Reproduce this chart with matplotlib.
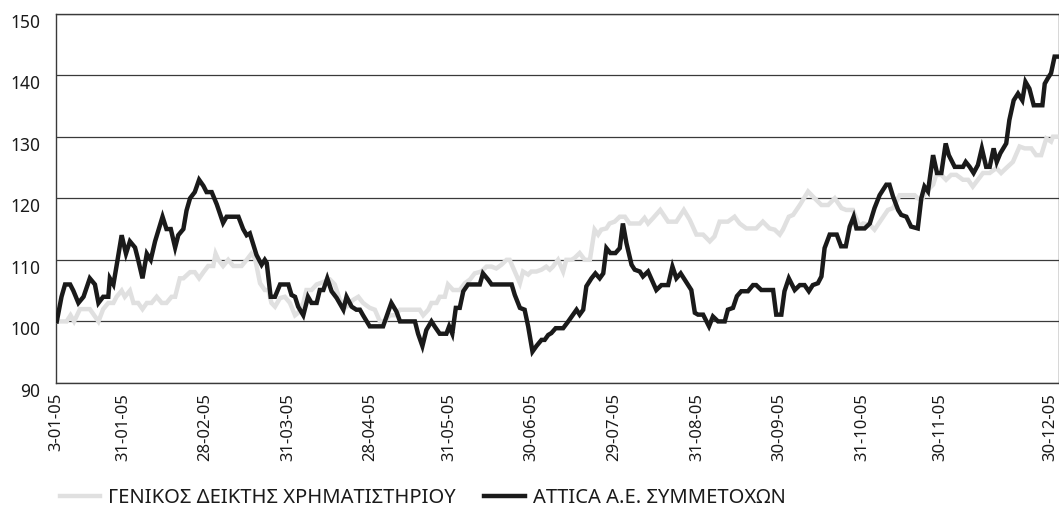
import matplotlib
matplotlib.use("Agg")
import matplotlib.pyplot as plt
from matplotlib.transforms import ScaledTranslation

# ---- data (trading-day position, value) ----
general_x = [0.2, 2.7, 3.7, 4.6, 6.1, 8.6, 10.8, 12.0, 13.3, 14.6, 15.4, 16.7, 17.5, 18.8, 19.7,
             20.9, 22.0, 23.1, 24.3, 25.6, 26.9, 28.1, 29.4, 30.3, 31.5, 32.4, 34.1, 35.3, 36.4,
             37.5, 38.7, 40.0, 40.6, 41.3, 42.5, 43.8, 45.1, 47.2, 48.5, 49.7, 50.6, 51.9, 53.1,
             54.0, 54.8, 55.7, 57.0, 58.2, 59.5, 60.8, 61.6, 62.9, 63.7, 65.0, 66.3, 69.7, 70.9,
             72.2, 73.9, 75.6, 76.9, 78.1, 79.8, 81.1, 82.4, 83.6, 84.9, 86.2, 87.5, 92.5, 93.4,
             94.7, 95.5, 96.8, 97.6, 98.9, 99.7, 101.0, 102.7, 104.0, 105.3, 106.5, 108.2, 109.5,
             110.8, 112.0, 113.3, 114.6, 115.4, 116.7, 118.0, 118.8, 120.1, 120.9, 122.2, 123.5,
             124.7, 125.6, 126.4, 127.7, 129.0, 129.8, 131.1, 131.9, 133.2, 134.5, 135.8, 137.0,
             137.9, 138.7, 140.0, 140.8, 142.1, 143.4, 144.7, 145.9, 148.5, 149.7, 150.6, 151.9,
             153.7, 155.7, 157.8, 159.7, 161.2, 162.9, 164.6, 166.3, 167.5, 168.8, 170.9, 172.6,
             173.9, 175.6, 178.1, 179.8, 181.5, 182.8, 184.1, 184.9, 186.4, 187.5, 189.2, 191.3,
             192.5, 194.7, 196.4, 198.1, 199.8, 201.0, 202.7, 204.4, 205.3, 207.0, 208.2, 209.9,
             211.6, 212.9, 214.6, 218.4, 219.2, 220.1, 221.4, 223.1, 223.9, 225.2, 226.4, 227.7,
             229.0, 230.7, 232.0, 233.2, 234.5, 235.8, 237.5, 239.2, 240.4, 241.7, 243.4, 245.1,
             246.4, 248.1, 249.3, 250.6, 251.9, 253.1, 253.6, 255.0]
general_y = [100, 100, 101, 100, 102, 102, 100, 102, 103, 103, 104, 105, 104, 105, 103,
             103, 102, 103, 103, 104, 103, 103, 104, 104, 107, 107, 108, 108, 107,
             108, 109, 109, 111, 110, 109, 110, 109, 109, 110, 111, 110.3, 106.2, 105.1,
             105.1, 103, 102.4, 103.8, 104, 103, 101, 101.4, 103, 105.1, 105.1, 106, 106.8, 106,
             103.5, 102.4, 103.5, 104, 103, 102.2, 101.9, 100, 100, 101, 101, 101.9, 101.9, 101,
             101.9, 103, 103, 104, 104, 106, 105.1, 105.1, 106.2, 106.8, 107.8, 108.1, 108.9,
             108.9, 108.6, 109.2, 110, 110, 108.1, 106.2, 108.1, 107.6, 108.1, 108.1, 108.4,
             108.9, 108.4, 108.9, 110, 108.1, 110, 110, 110.3, 111.1, 110, 110, 114.9,
             114.1, 114.9, 115.1, 115.9, 116.2, 117, 117, 115.9, 115.9, 116.8, 115.9, 116.8,
             118.1, 116.2, 116.2, 118.1, 116.5, 114.1, 114.1, 113, 113.8, 116.2, 116.2, 117,
             115.9, 115.1, 115.1, 116.2, 115.1, 114.9, 114.1, 114.9, 117, 117.3, 118.9, 121.1,
             120.3, 118.9, 118.9, 120, 118.4, 118.1, 118.1, 115.4, 115.9, 115.7, 114.9, 116.5,
             118.1, 118.4, 120.5, 120.5, 120, 119.7, 121.1, 122.2, 123.8, 123.8, 123, 123.8,
             123.8, 123, 123, 121.9, 123, 124.1, 124.1, 124.9, 124.1, 124.9, 125.9, 128.4,
             128.1, 128.1, 127, 127, 129.7, 129.2, 130, 130]

attica_x = [0.2, 1.4, 2.3, 3.6, 4.4, 5.7, 7.0, 8.6, 9.9, 10.8, 12.0, 13.3, 13.7, 14.6, 15.4,
            16.7, 17.8, 18.8, 20.1, 20.9, 22.0, 23.1, 24.1, 25.2, 27.1, 28.1, 29.2, 30.3, 31.1,
            32.4, 33.2, 34.1, 35.3, 36.4, 37.5, 38.3, 39.6, 40.9, 42.5, 43.4, 46.4, 47.6, 48.5,
            49.3, 51.0, 52.3, 53.1, 53.6, 54.6, 55.7, 57.0, 59.1, 59.9, 60.8, 61.6, 62.9, 64.1,
            65.0, 66.3, 67.1, 68.0, 69.0, 70.1, 71.4, 73.1, 73.9, 75.2, 76.4, 77.3, 78.1, 79.8,
            83.2, 84.2, 85.3, 86.6, 87.5, 91.3, 92.1, 93.2, 94.2, 95.5, 96.3, 97.6, 99.3, 100.0,
            100.8, 101.7, 102.7, 103.6, 104.8, 107.8, 108.6, 109.9, 110.8, 115.9, 116.7, 118.0,
            119.2, 120.1, 121.2, 122.2, 123.5, 124.3, 125.2, 126.0, 127.1, 129.0, 130.3, 131.5,
            132.4, 133.2, 134.1, 134.9, 136.2, 137.2, 138.3, 139.2, 140.0, 141.0, 142.3, 143.4,
            144.2, 145.1, 146.4, 147.2, 148.5, 149.3, 150.6, 152.7, 154.0, 155.7, 156.8, 157.8,
            158.9, 159.9, 161.6, 162.5, 163.3, 164.6, 166.1, 167.1, 168.4, 170.1, 170.9, 172.2,
            173.2, 174.3, 176.0, 177.3, 178.1, 179.4, 182.4, 183.2, 184.5, 185.3, 186.4, 187.9,
            189.2, 190.4, 191.5, 192.5, 193.8, 194.7, 195.5, 196.8, 198.6, 199.7, 200.9, 201.9,
            202.9, 203.6, 205.7, 207.0, 208.2, 209.5, 211.2, 212.0, 212.9, 214.2, 215.0, 216.3,
            217.5, 219.2, 220.1, 220.9, 221.8, 223.1, 224.1, 225.2, 226.3, 227.1, 228.6, 230.7,
            231.4, 232.4, 233.4, 234.5, 235.5, 236.6, 237.5, 238.5, 239.3, 240.2, 241.7, 242.5,
            243.6, 244.7, 245.8, 246.6, 247.6, 248.7, 250.9, 251.5, 252.3, 253.1, 254.0, 255.0]
attica_y = [100, 104, 106, 106, 105, 103, 104, 107, 106, 103, 104, 104, 107, 106, 109,
            114, 111, 113, 112, 110, 107, 111, 110, 113, 117, 115, 115, 112, 114,
            115, 118, 120, 121, 123, 122, 121, 121, 119, 116, 117, 117, 115, 114,
            114.3, 110.8, 109.2, 110, 109.5, 104, 104, 106, 106, 104.3, 104, 102.4, 101, 104,
            103, 103, 105.1, 105.1, 107, 104.9, 103.8, 101.9, 104, 102.4, 101.9, 101.9, 101, 99.2,
            99.2, 101, 103, 101.6, 100, 100, 98, 96, 98.6, 100, 99.2, 98, 98, 99.2,
            98, 102.2, 102.2, 104.9, 106, 106, 107.8, 106.8, 106, 106, 104.3, 102.2,
            101.9, 99.2, 95.1, 96, 97, 97, 97.8, 98.1, 98.9, 98.9, 100, 101.1,
            101.9, 101.1, 101.9, 105.7, 107, 107.8, 107, 107.8, 111.9, 111.1, 111.1, 111.9,
            115.9, 112.7, 109.2, 108.4, 108.1, 107.3, 108.1, 105.1, 105.9, 105.9, 108.9, 107,
            107.8, 106.8, 105.1, 101.4, 101.1, 101.1, 99.2, 100.8, 100, 100, 101.9, 102.2,
            104.1, 104.9, 104.9, 105.9, 105.9, 105.1, 105.1, 101.1, 101.1, 104.9, 107, 105.1,
            105.9, 105.9, 104.9, 105.9, 106.2, 107.3, 111.9, 114.1, 114.1, 112.2, 112.2, 115.4,
            117, 115.1, 115.1, 115.9, 118.4, 120.5, 122.2, 122.2, 120.3, 118.1, 117.3, 117,
            115.4, 115.1, 120, 121.9, 121.1, 127, 124.1, 124.1, 128.9, 127, 125.1, 125.1,
            125.9, 125.1, 124.1, 125.4, 128.1, 125.1, 125.1, 128.1, 125.9, 127.3, 128.9, 132.7,
            135.9, 137, 135.9, 138.9, 137.8, 135.1, 135.1, 138.6, 139.5, 140.3, 143, 143]

tick_pos = [0, 17, 38, 59, 80, 100, 121, 142, 163, 184, 205, 225, 253]
tick_labels = ["3-01-05", "31-01-05", "28-02-05", "31-03-05", "28-04-05", "31-05-05",
               "30-06-05", "29-07-05", "31-08-05", "30-09-05", "31-10-05", "30-11-05",
               "30-12-05"]
y_ticks = [90, 100, 110, 120, 130, 140, 150]
series_names = ["ΓΕΝΙΚΟΣ ΔΕΙΚΤΗΣ ΧΡΗΜΑΤΙΣΤΗΡΙΟΥ", "ATTICA Α.Ε. ΣΥΜΜΕΤΟΧΩΝ"]

plt.rcParams['font.family'] = ['Noto Sans', 'DejaVu Sans']

fig = plt.figure(figsize=(10.59, 5.25), dpi=100)
ax = fig.add_axes([56 / 1059, (525 - 383) / 525, 1002.5 / 1059, (383 - 13.5) / 525])

ax.plot(general_x, general_y, color="#e0e0e0", lw=3.2, solid_joinstyle="miter",
        label=series_names[0], zorder=3)
ax.plot(attica_x, attica_y, color="#1a1a1a", lw=3.2, solid_joinstyle="miter",
        label=series_names[1], zorder=4)

ax.set_xlim(0, 255)
ax.set_ylim(90, 150)
ax.set_yticks(y_ticks)
ax.set_yticklabels([str(v) for v in y_ticks], fontsize=12.5, color="#1a1a1a")
ax.set_xticks(tick_pos)
ax.set_xticklabels(tick_labels, rotation=90, fontsize=12, color="#1a1a1a")
ax.tick_params(axis="both", length=0)
ax.tick_params(axis="y", pad=11.5)
ax.tick_params(axis="x", pad=7)

for lbl in ax.get_yticklabels():
    lbl.set_transform(lbl.get_transform() + ScaledTranslation(0, -7 / 100, fig.dpi_scale_trans))

ax.grid(axis="y", color="#3a3a3a", lw=0.9, zorder=1)
for side in ["left", "bottom", "top", "right"]:
    ax.spines[side].set_color("#3a3a3a")
    ax.spines[side].set_linewidth(1.0)

leg = fig.legend(loc="center left", bbox_to_anchor=(42 / 1059, 1 - 498 / 525), ncol=2,
                 frameon=False, fontsize=14.5, handlelength=2.0, handletextpad=0.4,
                 columnspacing=1.4)
for t in leg.get_texts():
    t.set_color("#1a1a1a")

fig.savefig("out.png", dpi=100)
